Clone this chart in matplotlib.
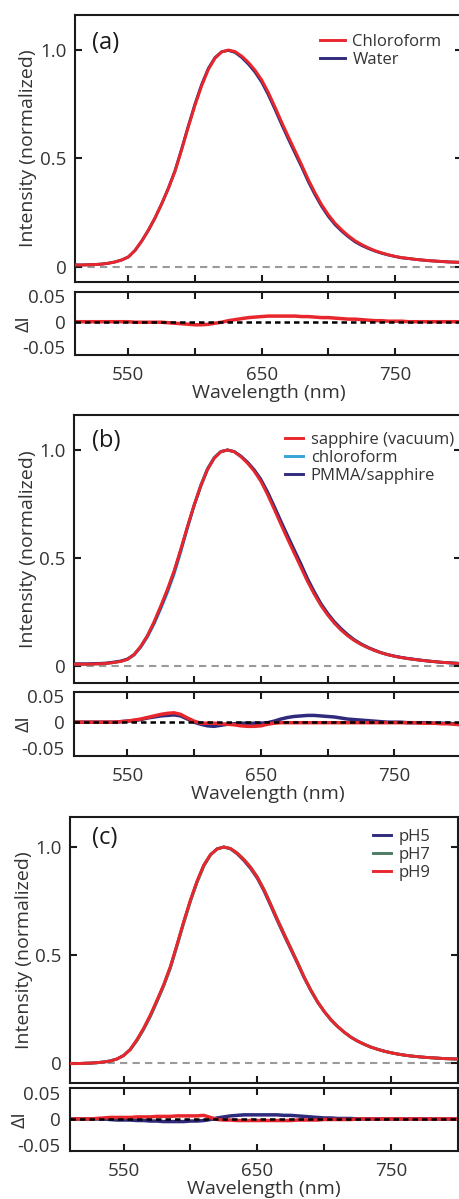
import matplotlib
matplotlib.use("Agg")
import matplotlib.pyplot as plt
from matplotlib.ticker import FixedLocator, FixedFormatter

plt.rcParams['font.family'] = ['Open Sans', 'DejaVu Sans']

# ---------------- data ----------------
wavelength = list(range(510, 805, 5))

# panel (a) normalized spectra
a_chloroform = [0.008, 0.008, 0.009, 0.010, 0.012, 0.016, 0.022, 0.031, 0.045, 0.075,
                0.118, 0.168, 0.225, 0.290, 0.360, 0.440, 0.540, 0.645, 0.745, 0.835,
                0.910, 0.962, 0.991, 1.000, 0.993, 0.972, 0.943, 0.907, 0.862, 0.804,
                0.737, 0.667, 0.600, 0.535, 0.470, 0.402, 0.341, 0.286, 0.240, 0.201,
                0.170, 0.143, 0.120, 0.102, 0.087, 0.074, 0.064, 0.055, 0.048, 0.042,
                0.038, 0.034, 0.031, 0.028, 0.026, 0.024, 0.022, 0.021, 0.020]
a_water = [0.008, 0.008, 0.009, 0.010, 0.012, 0.016, 0.022, 0.031, 0.045, 0.075,
           0.118, 0.168, 0.225, 0.290, 0.362, 0.443, 0.544, 0.650, 0.751, 0.841,
           0.915, 0.965, 0.992, 0.998, 0.989, 0.966, 0.935, 0.898, 0.852, 0.793,
           0.726, 0.656, 0.589, 0.524, 0.460, 0.392, 0.332, 0.278, 0.232, 0.194,
           0.164, 0.138, 0.115, 0.098, 0.084, 0.072, 0.062, 0.054, 0.047, 0.041,
           0.038, 0.034, 0.031, 0.028, 0.026, 0.024, 0.022, 0.021, 0.020]
# panel (a) residual
a_res_chloroform = [0.000, 0.000, 0.000, 0.000, 0.000, 0.000, 0.000, 0.000, 0.000, -0.001,
                    -0.001, -0.001, -0.001, -0.001, -0.002, -0.003, -0.004, -0.005, -0.006, -0.006,
                    -0.005, -0.003, -0.001, 0.002, 0.004, 0.006, 0.008, 0.009, 0.010, 0.011,
                    0.011, 0.011, 0.011, 0.011, 0.010, 0.010, 0.009, 0.008, 0.008, 0.007,
                    0.006, 0.005, 0.005, 0.004, 0.003, 0.002, 0.002, 0.001, 0.001, 0.001,
                    0.000, 0.000, 0.000, 0.000, 0.000, 0.000, 0.000, 0.000, 0.000]

# panel (b) normalized spectra
b_sapphire = [0.008, 0.008, 0.008, 0.009, 0.010, 0.012, 0.016, 0.021, 0.030, 0.052,
              0.090, 0.140, 0.205, 0.278, 0.355, 0.440, 0.540, 0.645, 0.745, 0.835,
              0.910, 0.962, 0.992, 1.000, 0.992, 0.969, 0.939, 0.902, 0.855, 0.794,
              0.726, 0.656, 0.588, 0.522, 0.457, 0.391, 0.333, 0.281, 0.237, 0.199,
              0.167, 0.140, 0.118, 0.100, 0.085, 0.072, 0.061, 0.052, 0.045, 0.039,
              0.034, 0.030, 0.026, 0.023, 0.020, 0.017, 0.015, 0.013, 0.011]
b_chloroform = [0.008, 0.008, 0.008, 0.009, 0.010, 0.012, 0.016, 0.021, 0.030, 0.050,
                0.086, 0.134, 0.195, 0.265, 0.340, 0.425, 0.528, 0.638, 0.743, 0.838,
                0.914, 0.965, 0.993, 1.000, 0.992, 0.971, 0.942, 0.906, 0.860, 0.799,
                0.731, 0.661, 0.593, 0.527, 0.462, 0.394, 0.334, 0.281, 0.237, 0.199,
                0.168, 0.141, 0.118, 0.100, 0.085, 0.072, 0.061, 0.052, 0.045, 0.039,
                0.034, 0.030, 0.026, 0.023, 0.020, 0.017, 0.015, 0.013, 0.012]
b_pmma = [0.010, 0.010, 0.010, 0.011, 0.012, 0.014, 0.018, 0.023, 0.032, 0.053,
          0.090, 0.139, 0.200, 0.272, 0.350, 0.436, 0.537, 0.643, 0.743, 0.832,
          0.909, 0.962, 0.992, 1.000, 0.993, 0.972, 0.944, 0.909, 0.865, 0.807,
          0.741, 0.672, 0.605, 0.539, 0.474, 0.405, 0.345, 0.290, 0.245, 0.206,
          0.174, 0.146, 0.122, 0.103, 0.087, 0.074, 0.062, 0.053, 0.046, 0.040,
          0.035, 0.031, 0.027, 0.023, 0.020, 0.017, 0.015, 0.013, 0.011]
# panel (b) residuals
b_res_sapphire = [0.000, 0.000, 0.000, 0.000, 0.000, 0.000, 0.000, 0.001, 0.002, 0.004,
                  0.006, 0.009, 0.012, 0.015, 0.017, 0.018, 0.015, 0.008, 0.002, -0.002,
                  -0.002, -0.002, -0.003, -0.004, -0.005, -0.007, -0.008, -0.008, -0.007, -0.004,
                  -0.002, -0.001, -0.001, -0.001, -0.001, -0.001, -0.001, -0.001, -0.001, -0.001,
                  -0.001, -0.001, -0.001, -0.001, -0.001, -0.001, -0.001, -0.001, -0.001, -0.001,
                  -0.001, -0.001, -0.002, -0.002, -0.002, -0.003, -0.003, -0.004, -0.005]
b_res_pmma = [0.000, 0.000, 0.000, 0.000, 0.000, 0.000, 0.000, 0.001, 0.002, 0.003,
              0.005, 0.008, 0.010, 0.012, 0.013, 0.014, 0.012, 0.006, 0.000, -0.004,
              -0.007, -0.008, -0.006, -0.004, -0.003, -0.002, -0.002, -0.002, -0.002, -0.001,
              0.002, 0.006, 0.009, 0.011, 0.012, 0.013, 0.013, 0.012, 0.011, 0.010,
              0.008, 0.006, 0.005, 0.004, 0.003, 0.002, 0.001, 0.000, 0.000, 0.000,
              -0.001, -0.001, -0.001, -0.001, -0.002, -0.002, -0.002, -0.003, -0.003]

# panel (c) normalized spectra
c_ph5 = [-0.003, -0.003, -0.002, -0.001, 0.001, 0.004, 0.009, 0.018, 0.034, 0.062,
         0.104, 0.156, 0.216, 0.285, 0.360, 0.443, 0.546, 0.652, 0.752, 0.840,
         0.914, 0.964, 0.992, 1.000, 0.991, 0.968, 0.937, 0.900, 0.855, 0.796,
         0.728, 0.658, 0.591, 0.526, 0.461, 0.394, 0.335, 0.282, 0.238, 0.200,
         0.169, 0.142, 0.119, 0.101, 0.086, 0.073, 0.063, 0.054, 0.047, 0.041,
         0.036, 0.032, 0.029, 0.026, 0.024, 0.022, 0.020, 0.019, 0.018]
c_ph7 = [-0.003, -0.003, -0.002, -0.001, 0.001, 0.004, 0.009, 0.018, 0.034, 0.062,
         0.104, 0.156, 0.216, 0.285, 0.356, 0.439, 0.542, 0.648, 0.748, 0.837,
         0.912, 0.963, 0.991, 1.000, 0.993, 0.972, 0.943, 0.907, 0.862, 0.804,
         0.736, 0.666, 0.599, 0.533, 0.467, 0.399, 0.338, 0.284, 0.239, 0.200,
         0.169, 0.142, 0.119, 0.101, 0.086, 0.073, 0.063, 0.054, 0.047, 0.041,
         0.036, 0.032, 0.029, 0.026, 0.024, 0.022, 0.020, 0.019, 0.018]
c_ph9 = [-0.003, -0.003, -0.002, -0.001, 0.001, 0.004, 0.009, 0.018, 0.034, 0.062,
         0.108, 0.161, 0.222, 0.291, 0.362, 0.446, 0.549, 0.655, 0.755, 0.843,
         0.917, 0.965, 0.991, 1.000, 0.993, 0.971, 0.941, 0.905, 0.859, 0.801,
         0.733, 0.663, 0.596, 0.530, 0.465, 0.397, 0.337, 0.283, 0.238, 0.200,
         0.169, 0.142, 0.119, 0.101, 0.086, 0.073, 0.063, 0.054, 0.047, 0.041,
         0.036, 0.032, 0.029, 0.026, 0.024, 0.022, 0.020, 0.019, 0.018]
# panel (c) residuals
c_res_ph5 = [0.000, 0.000, 0.000, 0.000, 0.000, 0.000, -0.001, -0.002, -0.002, -0.002,
             -0.003, -0.003, -0.004, -0.004, -0.005, -0.005, -0.005, -0.005, -0.004, -0.004,
             -0.003, -0.001, 0.002, 0.004, 0.006, 0.007, 0.008, 0.008, 0.008, 0.008,
             0.008, 0.008, 0.007, 0.007, 0.006, 0.005, 0.004, 0.003, 0.002, 0.002,
             0.001, 0.001, 0.001, 0.000, 0.000, 0.000, 0.000, 0.000, 0.000, 0.000,
             0.000, 0.000, 0.000, 0.000, 0.000, 0.000, 0.000, 0.000, 0.000]
c_res_ph9 = [0.000, 0.000, 0.000, 0.000, 0.001, 0.002, 0.003, 0.003, 0.003, 0.003,
             0.004, 0.004, 0.004, 0.005, 0.005, 0.005, 0.006, 0.006, 0.006, 0.006,
             0.007, 0.003, -0.001, -0.002, -0.002, -0.003, -0.003, -0.003, -0.003, -0.003,
             -0.003, -0.003, -0.003, -0.003, -0.002, -0.002, -0.002, -0.002, -0.001, -0.001,
             -0.001, -0.001, -0.001, 0.000, 0.000, 0.000, 0.000, 0.000, 0.000, 0.000,
             0.000, 0.000, 0.000, 0.000, 0.000, 0.000, 0.000, 0.000, 0.000]

main_yticks = [0, 0.5, 1.0]
main_yticklabels = ['0', '0.5', '1.0']
res_yticks = [-0.05, 0, 0.05]
res_yticklabels = ['-0.05', '0', '0.05']
x_ticks = [550, 600, 650, 700, 750]
x_ticklabels = ['550', '', '650', '', '750']

RED = '#e8272c'
NAVY = '#2f2a7c'
LBLUE = '#36a4d6'
GREEN = '#4e7b62'

# ---------------- figure ----------------
W, H = 460, 1199
fig = plt.figure(figsize=(W / 100, H / 100), dpi=100)


def add_ax(l, t, r, b):
    return fig.add_axes([l / W, 1 - b / H, (r - l) / W, (b - t) / H])


FS = 14
FS_TICK = 13.5
FS_LEG = 12
LW_SPINE = 1.5


def style(ax):
    for s in ax.spines.values():
        s.set_linewidth(LW_SPINE)
        s.set_color('#1a1a1a')
    ax.set_xlim(510, 800)
    ax.xaxis.set_major_locator(FixedLocator(x_ticks))


def panel(geom, main_ylim, res_ylim, series, residuals, label, leg, handlelen, ylab_x):
    l, t, r, b, rt, rb = geom
    ax = add_ax(l, t, r, b)
    axr = add_ax(l, rt, r, rb)
    style(ax)
    style(axr)
    ax.axhline(0, color='#9a9a9a', lw=1.5, dashes=(3.5, 2.5), zorder=1)
    for name, y, c, z in series:
        ax.plot(wavelength, y, color=c, lw=2.1, label=name, zorder=z,
                solid_joinstyle='round')
    ax.set_ylim(*main_ylim)
    ax.yaxis.set_major_locator(FixedLocator(main_yticks))
    ax.yaxis.set_major_formatter(FixedFormatter(main_yticklabels))
    ax.set_xticklabels([])
    ax.tick_params(axis='both', direction='in', length=5, width=1.5, color='#1a1a1a',
                   labelsize=FS_TICK, pad=6, left=True, right=True, top=False, bottom=True,
                   labelcolor='#333333')
    ax.set_ylabel('Intensity (normalized)', fontsize=FS, color='#333333')
    ax.yaxis.set_label_coords((ylab_x - l) / (r - l), 0.5)
    ax.text((92 - l) / (r - l), 1 - (leg[2] - t) / (b - t), label, transform=ax.transAxes,
            fontsize=17, va='center', ha='left', color='#1a1a1a')
    ax.legend(loc='upper left', frameon=False, fontsize=FS_LEG,
              bbox_to_anchor=(leg[0] / W, 1 - leg[1] / H),
              bbox_transform=fig.transFigure, borderpad=0, borderaxespad=0,
              handlelength=handlelen, handletextpad=0.45, labelspacing=0.12,
              labelcolor='#333333')

    axr.axhline(0, color='black', lw=1.8, dashes=(2.2, 1.6), zorder=3)
    for y, c in residuals:
        axr.plot(wavelength, y, color=c, lw=2.5, zorder=2)
    axr.set_ylim(*res_ylim)
    axr.yaxis.set_major_locator(FixedLocator(res_yticks))
    axr.yaxis.set_major_formatter(FixedFormatter(res_yticklabels))
    axr.xaxis.set_major_formatter(FixedFormatter(x_ticklabels))
    axr.tick_params(axis='x', direction='in', length=5, width=1.5, top=True, color='#1a1a1a',
                    bottom=True, labelsize=FS_TICK, pad=8, labelcolor='#333333')
    axr.tick_params(axis='y', length=0, labelsize=FS_TICK, pad=7, labelcolor='#333333')
    axr.set_xlabel('Wavelength (nm)', fontsize=FS, labelpad=0, color='#333333')
    axr.set_ylabel('ΔI', fontsize=FS, color='#333333')
    axr.yaxis.set_label_coords((ylab_x - 4 - l) / (r - l), 0.5)
    return ax, axr


panel((75, 15, 461.7, 282, 292, 355), (-0.0706, 1.1615), (-0.065, 0.058),
      [('Chloroform', a_chloroform, RED, 3), ('Water', a_water, NAVY, 2)],
      [(a_res_chloroform, RED)], '(a)', (320, 34, 43), 1.5, 37)

panel((74, 415, 461, 683, 692, 756), (-0.079, 1.162), (-0.065, 0.058),
      [('sapphire (vacuum)', b_sapphire, RED, 4), ('chloroform', b_chloroform, LBLUE, 2),
       ('PMMA/sapphire', b_pmma, NAVY, 3)],
      [(b_res_pmma, NAVY), (b_res_sapphire, RED)], '(b)', (285, 432, 441), 1.1, 37)

panel((70, 817, 458, 1083, 1088, 1151), (-0.093, 1.139), (-0.062, 0.06),
      [('pH5', c_ph5, NAVY, 2), ('pH7', c_ph7, GREEN, 3), ('pH9', c_ph9, RED, 4)],
      [(c_res_ph5, NAVY), (c_res_ph9, RED)], '(c)', (373, 829, 838), 1.1, 33)

fig.savefig('out.png', dpi=100)
